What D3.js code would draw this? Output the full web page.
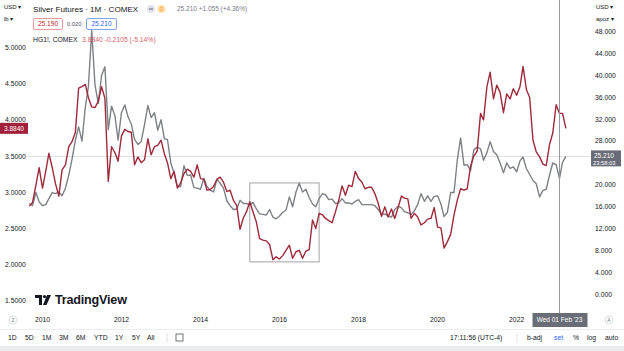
<!DOCTYPE html>
<html><head><meta charset="utf-8">
<script src="https://cdn.jsdelivr.net/npm/d3@7"></script>
<style>
html,body{margin:0;padding:0;background:#fff;overflow:hidden;}
svg{display:block;font-family:"Liberation Sans",Arial,sans-serif;}
</style></head><body>
<svg id="c" width="624" height="351"></svg>
<script>
// ---- data (monthly closes, Sep 2009 .. Apr 2023) ----
const startMonth = "2009-09";
const copperHG1 = [
  2.81, 2.86, 3.10, 3.34,
  3.06, 3.30, 3.54, 3.34, 3.12, 2.95, 3.31, 3.38, 3.63, 3.70, 3.83, 4.44,
  4.46, 4.49, 4.31, 4.18, 4.17, 4.26, 4.46, 4.30, 3.15, 3.63, 3.55, 3.43,
  3.78, 3.87, 3.84, 3.83, 3.38, 3.49, 3.41, 3.45, 3.74, 3.52, 3.63, 3.65,
  3.72, 3.53, 3.41, 3.19, 3.29, 3.06, 3.13, 3.26, 3.32, 3.29, 3.21, 3.38,
  3.19, 3.18, 3.03, 3.04, 3.08, 3.18, 3.21, 3.14, 3.01, 3.03, 2.89, 2.82,
  2.49, 2.65, 2.73, 2.87, 2.73, 2.59, 2.36, 2.34, 2.33, 2.28, 2.07, 2.11,
  2.08, 2.13, 2.20, 2.27, 2.09, 2.18, 2.20, 2.09, 2.19, 2.21, 2.62, 2.50,
  2.71, 2.69, 2.64, 2.61, 2.58, 2.73, 2.89, 3.09, 2.96, 3.10, 3.08, 3.29,
  3.19, 3.14, 3.05, 3.07, 3.07, 2.98, 2.85, 2.67, 2.80, 2.66, 2.77, 2.64,
  2.79, 2.95, 2.92, 2.91, 2.64, 2.71, 2.66, 2.55, 2.58, 2.63, 2.64, 2.79,
  2.52, 2.51, 2.23, 2.32, 2.42, 2.69, 2.89, 3.05, 3.03, 3.05, 3.36, 3.50,
  3.57, 4.09, 4.00, 4.46, 4.66, 4.29, 4.48, 4.38, 4.10, 4.36, 4.29, 4.43,
  4.34, 4.46, 4.74, 4.42, 4.31, 3.72, 3.56, 3.49, 3.39, 3.37, 3.66, 3.82,
  4.21, 4.09, 4.09, 3.884
];
const silverFutures = [
  16.6, 16.2, 18.6, 16.9,
  16.2, 16.4, 17.5, 18.6, 18.4, 18.7, 18.0, 19.4, 21.8, 24.7, 28.2, 30.6,
  28.0, 34.2, 37.9, 48.2, 38.3, 34.9, 40.0, 41.6, 30.1, 34.4, 32.7, 28.2,
  33.2, 34.6, 32.5, 31.1, 28.3, 27.4, 27.9, 31.0, 34.5, 32.3, 33.2, 30.0,
  31.9, 28.4, 28.3, 24.0, 22.2, 19.7, 19.7, 23.5, 21.7, 21.8, 19.5, 19.4,
  19.2, 21.2, 19.7, 19.0, 18.7, 21.0, 20.3, 19.4, 17.1, 16.2, 15.5, 15.6,
  17.2, 16.6, 16.6, 16.3, 16.8, 15.6, 14.7, 14.6, 14.5, 15.5, 14.1, 13.8,
  14.3, 15.0, 15.4, 17.8, 16.0, 18.7, 20.3, 18.7, 19.2, 17.7, 16.5, 16.0,
  17.5, 18.4, 18.2, 17.3, 17.4, 16.6, 16.7, 17.5, 16.7, 16.7, 16.5, 17.0,
  17.3, 16.4, 16.4, 16.4, 16.4, 16.2, 15.5, 14.6, 14.7, 14.3, 14.1, 15.5,
  16.1, 15.8, 15.1, 14.9, 14.6, 15.3, 16.4, 18.4, 17.0, 18.0, 17.0, 17.9,
  18.0, 16.5, 14.2, 15.0, 18.6, 18.6, 24.5, 28.6, 23.6, 23.7, 22.6, 26.4,
  26.9, 26.6, 24.5, 25.9, 27.9, 26.1, 25.5, 24.0, 22.2, 24.0, 23.0, 23.3,
  22.4, 24.4, 25.1, 23.0, 21.9, 20.8, 20.2, 17.8, 19.0, 19.2, 21.8, 24.0,
  23.7, 21.2, 24.1, 25.21
];
const yearTicks = [2010, 2012, 2014, 2016, 2018, 2020, 2022];
const copperTicks = [1.5, 2.0, 2.5, 3.0, 3.5, 4.0, 4.5, 5.0];
const silverTicks = [0, 4, 8, 12, 16, 20, 28, 32, 36, 40, 44, 48];
const copperLast = 3.884, silverLast = 25.21;
const boxRange = {from: "2015-04", to: "2017-01", low: 2.04, high: 3.13}; // highlighted area (copper scale)
const crosshairMonth = "2023-02";
const rangeButtons = ["1D","5D","1M","3M","6M","YTD","1Y","5Y","All"];

// ---- setup ----
const svg = d3.select("#c");
const parseM = d3.timeParse("%Y-%m");
const t0 = parseM(startMonth);
const months = copperHG1.map((_, i) => d3.timeMonth.offset(t0, i));

const x = d3.scaleTime().domain([new Date(2010,0,1), new Date(2023,1,1)]).range([42.5, 559.5]);
const yL = d3.scaleLinear().domain([1.5, 5.0]).range([301, 47.5]);
const yR = d3.scaleLinear().domain([0, 48]).range([294.3, 31.7]);

const ink = "#131722";
const fs = 6.8;

// separators
svg.append("rect").attr("x",0).attr("y",346).attr("width",624).attr("height",5).attr("fill","#e9ebef");
svg.append("line").attr("x1",0).attr("x2",624).attr("y1",329.5).attr("y2",329.5).attr("stroke","#eceef2");

// last price line (silver)
svg.append("line").attr("x1",28).attr("x2",590).attr("y1",yR(silverLast)).attr("y2",yR(silverLast))
  .attr("stroke","#dcdde0").attr("stroke-width",1);

// highlight box
const bx0 = x(parseM(boxRange.from)), bx1 = x(parseM(boxRange.to));
svg.append("rect").attr("x",bx0).attr("y",yL(boxRange.high)).attr("width",bx1-bx0)
  .attr("height",yL(boxRange.low)-yL(boxRange.high)).attr("fill","none")
  .attr("stroke","#a3a3a3").attr("stroke-width",1);

// lines
const lineL = d3.line().x((d,i)=>x(months[i])).y(d=>yL(d));
const lineR = d3.line().x((d,i)=>x(months[i])).y(d=>yR(d));
svg.append("path").datum(silverFutures).attr("d",lineR).attr("fill","none")
  .attr("stroke","#7d8086").attr("stroke-width",1.4).attr("stroke-linejoin","round");
svg.append("path").datum(copperHG1).attr("d",lineL).attr("fill","none")
  .attr("stroke","#9e2a3b").attr("stroke-width",1.4).attr("stroke-linejoin","round");

// crosshair
const cx = x(parseM(crosshairMonth));
svg.append("line").attr("x1",cx).attr("x2",cx).attr("y1",0).attr("y2",313)
  .attr("stroke","#9598a1").attr("stroke-width",1);

// left axis
svg.append("text").attr("x",4).attr("y",9).attr("font-size",6).attr("fill",ink).text("USD ▾");
svg.append("text").attr("x",4).attr("y",21).attr("font-size",6).attr("fill",ink).text("lb ▾");
svg.append("g").selectAll("text").data(copperTicks).join("text")
  .attr("x",5).attr("y",d=>yL(d)).attr("dy","0.35em").attr("font-size",fs).attr("fill",ink)
  .text(d=>d3.format(".4f")(d));
svg.append("rect").attr("x",0).attr("y",yL(copperLast)-5.5).attr("width",28).attr("height",11).attr("fill","#a3203a");
svg.append("text").attr("x",14).attr("y",yL(copperLast)).attr("dy","0.35em").attr("text-anchor","middle")
  .attr("font-size",fs-0.3).attr("fill","#fff").text(d3.format(".4f")(copperLast));

// right axis
svg.append("text").attr("x",596).attr("y",9).attr("font-size",6).attr("fill",ink).text("USD ▾");
svg.append("text").attr("x",596).attr("y",21).attr("font-size",6).attr("fill",ink).text("apoz ▾");
svg.append("g").selectAll("text").data(silverTicks).join("text")
  .attr("x",595).attr("y",d=>yR(d)).attr("dy","0.35em").attr("font-size",fs).attr("fill",ink)
  .text(d=>d3.format(".3f")(d));
svg.append("rect").attr("x",591).attr("y",yR(silverLast)-6).attr("width",30).attr("height",16).attr("fill","#6a6d78");
svg.append("text").attr("x",594).attr("y",yR(silverLast)-0.5).attr("dy","0.35em")
  .attr("font-size",fs-0.3).attr("fill","#fff").text(d3.format(".3f")(silverLast));
svg.append("text").attr("x",593).attr("y",yR(silverLast)+6.5).attr("dy","0.35em")
  .attr("font-size",5.8).attr("fill","#fff").text("23:58:03");

// time axis
svg.append("g").selectAll("text").data(yearTicks).join("text")
  .attr("x",d=>x(new Date(d,0,1))).attr("y",320).attr("dy","0.35em").attr("text-anchor","middle")
  .attr("font-size",fs).attr("fill",ink).text(d=>d);
svg.append("rect").attr("x",cx-27).attr("y",313).attr("width",55).attr("height",14).attr("fill","#6a6d78");
svg.append("text").attr("x",cx).attr("y",320).attr("dy","0.35em").attr("text-anchor","middle")
  .attr("font-size",fs-0.3).attr("fill","#fff").text(d3.timeFormat("%a %d %b '%y")(parseM(crosshairMonth)));
[[13,"Z"],[609,"A"]].forEach(([px,l])=>{
  svg.append("circle").attr("cx",px).attr("cy",320).attr("r",4).attr("fill","none").attr("stroke","#d1d4dc").attr("stroke-width",0.8);
  svg.append("text").attr("x",px).attr("y",320).attr("dy","0.35em").attr("text-anchor","middle")
    .attr("font-size",5).attr("fill","#787b86").text(l);
});

// bottom toolbar
const bx = [8,25,42,59,76,94,115,132,147];
rangeButtons.forEach((b,i)=>{
  svg.append("text").attr("x",bx[i]).attr("y",338).attr("dy","0.35em").attr("font-size",fs)
    .attr("fill",ink).text(b);
});
svg.append("line").attr("x1",167).attr("x2",167).attr("y1",333).attr("y2",343).attr("stroke","#e0e3eb");
svg.append("rect").attr("x",176).attr("y",334).attr("width",7).attr("height",7).attr("fill","none").attr("stroke","#50535e").attr("stroke-width",0.8);
svg.append("text").attr("x",450).attr("y",338).attr("dy","0.35em").attr("font-size",fs).attr("fill",ink).text("17:11:56 (UTC-4)");
svg.append("line").attr("x1",517).attr("x2",517).attr("y1",333).attr("y2",343).attr("stroke","#e0e3eb");
[[527,"b-adj",ink],[554,"set","#2962ff"],[573,"%",ink],[587,"log",ink],[605,"auto",ink]].forEach(([px,t,c])=>{
  svg.append("text").attr("x",px).attr("y",338).attr("dy","0.35em").attr("font-size",fs).attr("fill",c).text(t);
});

// logo
const logo = svg.append("g").attr("transform","translate(35,295)");
logo.append("path").attr("d","M0 0 H7 V10 H4 V3 H0 Z").attr("fill",ink);
logo.append("circle").attr("cx",9.5).attr("cy",1.6).attr("r",1.6).attr("fill",ink);
logo.append("path").attr("d","M12 0 H16 L11.5 10 H8 Z").attr("fill",ink);
svg.append("text").attr("x",55).attr("y",300).attr("dy","0.35em").attr("font-size",12.6)
  .attr("font-weight","bold").attr("fill",ink).attr("letter-spacing",-0.2).text("TradingView");

// legend header
svg.append("text").attr("x",33).attr("y",9).attr("dy","0.35em").attr("font-size",8.1).attr("fill",ink)
  .text("Silver Futures · 1M · COMEX");
svg.append("circle").attr("cx",151).attr("cy",9).attr("r",4).attr("fill","#e0e3eb");
svg.append("line").attr("x1",149).attr("x2",153).attr("y1",9).attr("y2",9).attr("stroke","#50535e").attr("stroke-width",0.9);
svg.append("circle").attr("cx",161.5).attr("cy",9).attr("r",4).attr("fill","#ffe0b2");
svg.append("text").attr("x",161.5).attr("y",9).attr("dy","0.35em").attr("text-anchor","middle").attr("font-size",5.5).attr("fill","#ff9800").text("D");
svg.append("text").attr("x",177).attr("y",9).attr("dy","0.35em").attr("font-size",6.5).attr("fill","#787b86")
  .text("25.210 +1.055 (+4.36%)");
svg.append("rect").attr("x",33.5).attr("y",18.5).attr("width",29).attr("height",11).attr("rx",1.5).attr("fill","#fff").attr("stroke","#ef9a9a");
svg.append("text").attr("x",48).attr("y",24).attr("dy","0.35em").attr("text-anchor","middle").attr("font-size",6.6).attr("fill","#c62828").text("25.190");
svg.append("text").attr("x",67).attr("y",24).attr("dy","0.35em").attr("font-size",5.8).attr("fill","#50535e").text("0.020");
svg.append("rect").attr("x",86.5).attr("y",18.5).attr("width",30).attr("height",11).attr("rx",1.5).attr("fill","#fff").attr("stroke","#7ea6f5");
svg.append("text").attr("x",101.5).attr("y",24).attr("dy","0.35em").attr("text-anchor","middle").attr("font-size",6.6).attr("fill","#2962ff").text("25.210");
svg.append("text").attr("x",33).attr("y",40).attr("dy","0.35em").attr("font-size",6.8).attr("fill",ink).text("HG1!, COMEX");
svg.append("text").attr("x",82).attr("y",40).attr("dy","0.35em").attr("font-size",6.8).attr("fill","#d35f6b")
  .text("3.8840 -0.2105 (-5.14%)");
</script>
</body></html>
